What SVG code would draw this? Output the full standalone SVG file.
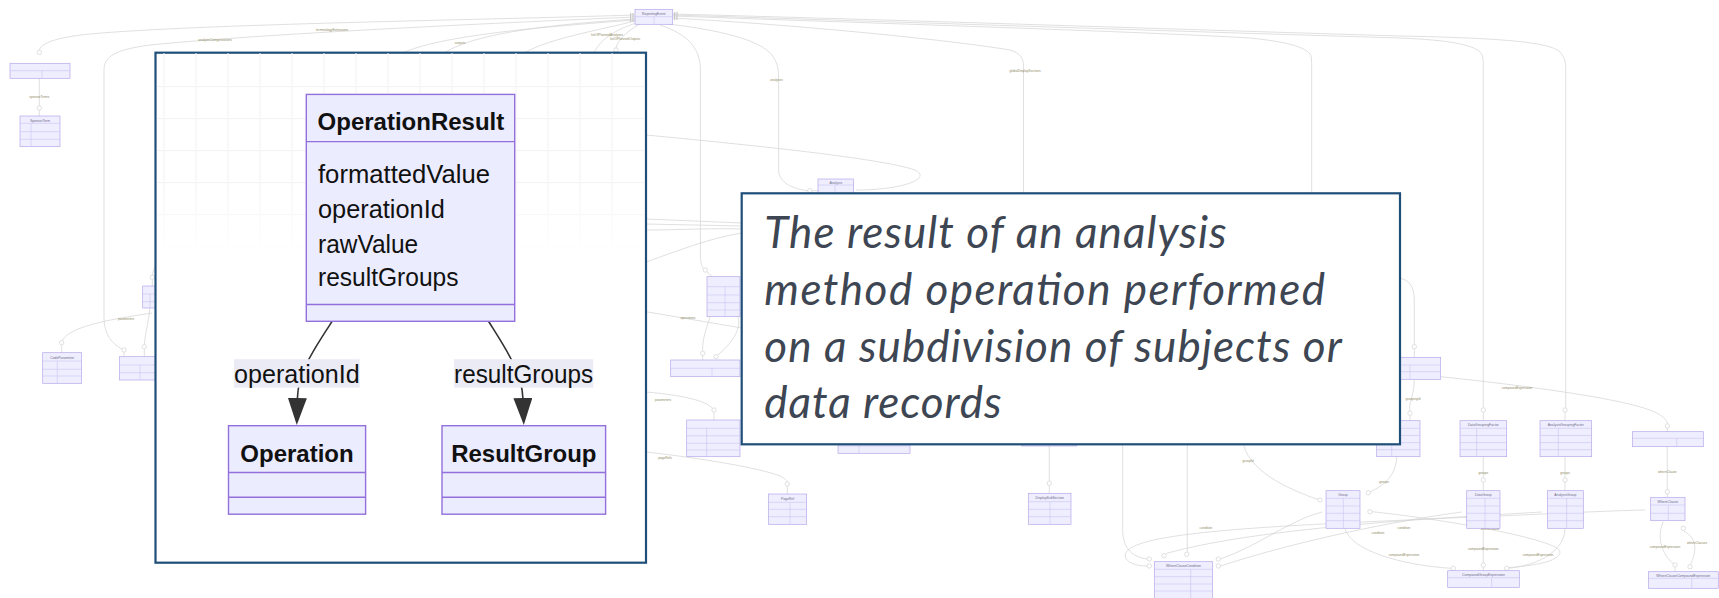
<svg xmlns="http://www.w3.org/2000/svg" width="1719" height="598" viewBox="0 0 1719 598">
  <defs>
    <style>
      .bl { fill: none; stroke: #d3d3d3; stroke-width: 0.7; }
      .bc { fill: #ffffff; stroke: #c2c2c2; stroke-width: 0.5; }
      .bt { fill: #c9c9c9; }
      .bn rect { fill: #eeeeff; stroke: #b3a2e8; stroke-width: 0.65; }
      .bn path { fill: none; stroke: #c6b9ef; stroke-width: 0.5; }
      .bn text { font-family: "Liberation Sans", Arial, sans-serif; font-size: 3.4px; fill: #6e6a88; text-anchor: middle; }
      .blab { font-family: "Liberation Sans", Arial, sans-serif; font-size: 3.2px; fill: #8d8962; text-anchor: middle; }
      .frame { fill: #ffffff; stroke: #1f4e79; stroke-width: 2.2; }
      .grid { fill: none; stroke: #f2f2f2; stroke-width: 1; }
      .cls rect { fill: #ececff; stroke: #9370db; stroke-width: 1.4; }
      .cls path { fill: none; stroke: #9370db; stroke-width: 1.4; }
      .title { font-family: "Liberation Sans", Arial, sans-serif; font-size: 24px; font-weight: bold; fill: #111111; text-anchor: middle; }
      .attr { font-family: "Liberation Sans", Arial, sans-serif; font-size: 25px; fill: #111111; }
      .edge { fill: none; stroke: #333333; stroke-width: 1.6; }
      .elbg { fill: #ebebf5; }
      .eltx { font-family: "Liberation Sans", Arial, sans-serif; font-size: 25px; fill: #111111; text-anchor: middle; }
      .note { font-family: Lato, "Open Sans", "Liberation Sans", sans-serif; font-size: 44px; font-style: italic; fill: #3d4652; }
    </style>
    <marker id="arrow" markerUnits="userSpaceOnUse" viewBox="0 0 27 19" markerWidth="27" markerHeight="19" refX="0" refY="9.5" orient="auto">
      <path d="M0,0 L27,9.5 L0,19 Z" fill="#333333"/>
    </marker>
    <linearGradient id="gridFade" gradientUnits="userSpaceOnUse" x1="0" y1="52" x2="0" y2="252">
      <stop offset="0" stop-color="#fff" stop-opacity="1"/>
      <stop offset="0.7" stop-color="#fff" stop-opacity="1"/>
      <stop offset="1" stop-color="#fff" stop-opacity="0"/>
    </linearGradient>
    <mask id="gridMask" maskUnits="userSpaceOnUse" x="156" y="53" width="490" height="200">
      <rect x="156" y="53" width="490" height="200" fill="url(#gridFade)"/>
    </mask>
  </defs>

  <rect width="1719" height="598" fill="#ffffff"/>

  <!-- full entity-relationship model, drawn small behind the panels -->
  <g id="overview">
    <g id="overview-connectors">
      <path class="bl" d="M635,15 C480,20 200,24 90,34 C60,37 42,42 39.3,50"/>
      <path class="bl" d="M635,17 C450,25 250,35 150,45 C112,50 104,58 104,70 V318 C104,334 112,344 122,349"/>
      <path class="bl" d="M635,19 C560,24 470,32 440,56"/>
      <path class="bl" d="M635,20 C540,27 430,36 397,56"/>
      <path class="bl" d="M635,21 C600,30 540,40 520,56"/>
      <path class="bl" d="M636,23 C615,30 598,40 593,56"/>
      <path class="bl" d="M640,24 C625,32 617,42 616,48"/>
      <path class="bl" d="M39.3,78.3 V105.8 M39.3,110.2 V116"/>
      <path class="bl" d="M152,313 C120,318 70,325 62.5,340.5 M61.7,344.9 V352.7"/>
      <path class="bl" d="M150,308 C148,325 145,335 144.3,344.5 M144.3,348.9 V356.7 M124,352.2 V356.7"/>
      <path class="bl" d="M152.3,275.1 C153,270 155,266 160,262 M152.3,279.5 V286"/>

      <path class="bl" d="M672,14 C900,20 1200,30 1400,36 C1500,38 1550,42 1560,52 C1565,58 1565.7,62 1565.7,70 V407.8 M1565,412.2 V420.7"/>
      <path class="bl" d="M672,15 C900,22 1200,32 1400,38 C1450,40 1478,45 1482,55 C1483.3,58 1483.3,62 1483.3,70 V407.8 M1483.3,412.2 V420.7"/>
      <path class="bl" d="M672,16 C900,24 1150,32 1250,38 C1290,42 1308,48 1311,56 C1311.7,60 1311.7,64 1311.7,70 V262 C1311.7,274 1320,278 1340,278 H1398 C1410,279 1414.3,288 1414.3,300 V344.5 M1414.3,348.9 V357.3"/>
      <path class="bl" d="M672,18 C800,25 950,40 1010,50 C1020,53 1023.5,58 1023.5,66 V430"/>
      <path class="bl" d="M668,24 C720,30 760,40 772,55 C777,62 778.6,68 778.6,78 V170 C778.6,182 792,189 807.6,190.7 M812,190.7 H818"/>
      <path class="bl" d="M660,25 C690,35 700.4,50 700.4,70 V255 C700.4,263 702,267 703.3,268.5 M707,272 L712,276.7"/>
      <path class="bl" d="M646,135 C750,145 880,158 915,170 C932,178 905,190 856,190"/>

      <path class="bl" d="M646,219 L742,223"/>
      <path class="bl" d="M646,224 L742,226"/>
      <path class="bl" d="M646,230 C680,230 710,228 742,229"/>
      <path class="bl" d="M646,262 C680,250 710,238 742,233"/>
      <path class="bl" d="M646,311.7 L742,328"/>
      <path class="bl" d="M710,316.7 C706,330 702,340 702.7,351.1 M702.7,355.5 V360"/>
      <path class="bl" d="M738,317 C742,330 730,345 717.6,355.2"/>
      <path class="bl" d="M646,392 C680,395 705,400 712.6,408.4 M714,412.2 V420"/>
      <path class="bl" d="M646,452 C700,458 760,468 780,476 C785,479 787,480 787.3,481.8 M787.3,486.2 V494"/>
      <path class="bl" d="M1049.3,446 V481.1 M1049.3,485.5 V493.3"/>

      <path class="bl" d="M1122.7,440 V530 C1122.7,548 1132,557 1147.1,559"/>
      <path class="bl" d="M1187.3,440 V552.1"/>
      <path class="bl" d="M1147.1,566 C1130,566 1120,558 1128,550 C1150,530 1300,525 1450,518 C1550,514 1600,511 1645,510"/>
      <path class="bl" d="M1166,553.5 C1250,530 1400,520 1542,512"/>
      <path class="bl" d="M1220.5,559 C1260,545 1290,520 1322,512"/>
      <path class="bl" d="M1220.5,566 C1300,540 1400,520 1462,512"/>
      <path class="bl" d="M1414.3,380 C1414.3,395 1408,405 1410,411.1 M1410,415.5 V420.7"/>
      <path class="bl" d="M1440.7,376.7 C1520,385 1640,400 1660,415 C1666,419 1667.3,421 1667.3,423.8 M1667.3,428.2 V431.7"/>
      <path class="bl" d="M1396.7,457 C1396,475 1385,485 1370.3,491.8"/>
      <path class="bl" d="M1243,440 C1245,470 1290,490 1317.8,499.4"/>
      <path class="bl" d="M1483.3,456.7 V477.8 M1483.3,482.2 V490.7"/>
      <path class="bl" d="M1565,456.7 V477.8 M1565,482.2 V490.7"/>
      <path class="bl" d="M1667.3,446.7 V489.5 M1667.3,493.9 V497.3"/>
      <path class="bl" d="M1345,528.3 C1350,550 1400,565 1451.1,568.3"/>
      <path class="bl" d="M1483.3,528.3 V562.8 M1483.3,567.2 V570.7"/>
      <path class="bl" d="M1565,528.3 C1565,550 1540,565 1508.9,568.3"/>
      <path class="bl" d="M1372.2,511.7 C1450,520 1560,540 1560,552 C1560,562 1530,566 1509,567.5"/>
      <path class="bl" d="M1663.3,521.7 C1655,540 1665,558 1673.5,563.5 M1675,567.2 V571.7"/>
      <path class="bl" d="M1683.3,530.5 C1700,540 1695,555 1690.5,564.5"/>

      <circle class="bc" cx="39.3" cy="52.3" r="2.2"/>
      <circle class="bc" cx="39.3" cy="108" r="2.2"/>
      <circle class="bc" cx="61.7" cy="342.7" r="2.2"/>
      <circle class="bc" cx="124" cy="350" r="2.2"/>
      <circle class="bc" cx="144.3" cy="346.7" r="2.2"/>
      <circle class="bc" cx="152.3" cy="277.3" r="2.2"/>
      <circle class="bc" cx="616" cy="50" r="2.2"/>
      <circle class="bc" cx="809.8" cy="190.7" r="2.2"/>
      <circle class="bc" cx="705.3" cy="270" r="2.2"/>
      <circle class="bc" cx="702.7" cy="353.3" r="2.2"/>
      <circle class="bc" cx="716" cy="356.7" r="2.2"/>
      <circle class="bc" cx="714" cy="410" r="2.2"/>
      <circle class="bc" cx="787.3" cy="484" r="2.2"/>
      <circle class="bc" cx="1049.3" cy="483.3" r="2.2"/>
      <circle class="bc" cx="1149.3" cy="559" r="2.2"/>
      <circle class="bc" cx="1149.3" cy="566" r="2.2"/>
      <circle class="bc" cx="1164" cy="555.7" r="2.2"/>
      <circle class="bc" cx="1186.7" cy="554.3" r="2.2"/>
      <circle class="bc" cx="1218.3" cy="559" r="2.2"/>
      <circle class="bc" cx="1218.3" cy="566" r="2.2"/>
      <circle class="bc" cx="1414.3" cy="346.7" r="2.2"/>
      <circle class="bc" cx="1410" cy="413.3" r="2.2"/>
      <circle class="bc" cx="1483.3" cy="410" r="2.2"/>
      <circle class="bc" cx="1565" cy="410" r="2.2"/>
      <circle class="bc" cx="1667.3" cy="426" r="2.2"/>
      <circle class="bc" cx="1320" cy="500" r="2.2"/>
      <circle class="bc" cx="1368.3" cy="492.7" r="2.2"/>
      <circle class="bc" cx="1370" cy="511.7" r="2.2"/>
      <circle class="bc" cx="1483.3" cy="480" r="2.2"/>
      <circle class="bc" cx="1565" cy="480" r="2.2"/>
      <circle class="bc" cx="1667.3" cy="491.7" r="2.2"/>
      <circle class="bc" cx="1453.3" cy="568.3" r="2.2"/>
      <circle class="bc" cx="1483.3" cy="565" r="2.2"/>
      <circle class="bc" cx="1506.7" cy="568.3" r="2.2"/>
      <circle class="bc" cx="1675" cy="565" r="2.2"/>
      <circle class="bc" cx="1690" cy="566.7" r="2.2"/>
      <circle class="bc" cx="1683.3" cy="528.3" r="2.2"/>

      <rect class="bt" x="630" y="13" width="1.2" height="9"/>
      <rect class="bt" x="632.4" y="13" width="1.2" height="9"/>
      <rect class="bt" x="674" y="12" width="1.2" height="8"/>
      <rect class="bt" x="676.4" y="12" width="1.2" height="8"/>

      <text class="blab" x="332" y="31">terminologyExtensions</text>
      <text class="blab" x="215" y="41">analysisCategorizations</text>
      <text class="blab" x="460" y="44">outputs</text>
      <text class="blab" x="607" y="36">listOfPlannedAnalyses</text>
      <text class="blab" x="625" y="40">listOfPlannedOutputs</text>
      <text class="blab" x="39.3" y="98">sponsorTerms</text>
      <text class="blab" x="126" y="320">parameters</text>
      <text class="blab" x="776.5" y="81">analyses</text>
      <text class="blab" x="1025" y="71.5">globalDisplaySections</text>
      <text class="blab" x="688" y="318.5">operations</text>
      <text class="blab" x="663" y="401">parameters</text>
      <text class="blab" x="665" y="459">pageRefs</text>
      <text class="blab" x="1413" y="400">groupingId</text>
      <text class="blab" x="1384" y="483">groups</text>
      <text class="blab" x="1483.3" y="474">groups</text>
      <text class="blab" x="1565" y="474">groups</text>
      <text class="blab" x="1248" y="461.5">groupId</text>
      <text class="blab" x="1667.3" y="473">whereClause</text>
      <text class="blab" x="1490" y="530">whereClause</text>
      <text class="blab" x="1404" y="528.5">condition</text>
      <text class="blab" x="1378" y="534">condition</text>
      <text class="blab" x="1206" y="529">condition</text>
      <text class="blab" x="1404" y="556">compoundExpression</text>
      <text class="blab" x="1483.3" y="550">compoundExpression</text>
      <text class="blab" x="1538" y="556">compoundExpression</text>
      <text class="blab" x="1665" y="548">compoundExpression</text>
      <text class="blab" x="1517" y="388.5">compoundExpression</text>
      <text class="blab" x="1697" y="544">whereClauses</text>
    </g>

    <g id="overview-nodes">
      <g id="ov-reporting-event" class="bn"><rect x="635" y="9.3" width="37.7" height="15"/><path d="M635,16.7 H672.7 M654,16.7 V24.3"/><text x="653.8" y="15">ReportingEvent</text></g>
      <g id="ov-terminology" class="bn"><rect x="10" y="63.3" width="60" height="15"/><path d="M10,70.7 H70 M42,70.7 V78.3"/></g>
      <g id="ov-sponsor-term" class="bn"><rect x="20" y="116" width="40" height="30.7"/><path d="M20,123.3 H60 M20,131.7 H60 M20,139.3 H60 M31,123.3 V146.7"/><text x="40" y="121.5">SponsorTerm</text></g>
      <g id="ov-code-parameter" class="bn"><rect x="42.7" y="352.7" width="39" height="30.6"/><path d="M42.7,361 H81.7 M42.7,369.3 H81.7 M42.7,376 H81.7 M57.3,361 V383.3"/><text x="62.2" y="358.5">CodeParameter</text></g>
      <g id="ov-left-a" class="bn"><rect x="142.7" y="286" width="30" height="22"/><path d="M142.7,294 H172.7 M142.7,301.7 H172.7 M150,294 V308"/></g>
      <g id="ov-left-b" class="bn"><rect x="119.3" y="356.7" width="45" height="23.3"/><path d="M119.3,365 H164.3 M119.3,372.7 H164.3 M140,365 V380"/></g>
      <g id="ov-analysis" class="bn"><rect x="818" y="179" width="35.6" height="22"/><path d="M818,185 H853.6 M835,185 V201"/><text x="835.8" y="183.5">Analysis</text></g>
      <g id="ov-mid-a" class="bn"><rect x="707" y="276.7" width="33" height="40"/><path d="M707,286.7 H740 M707,295 H740 M707,302.7 H740 M707,310 H740 M725,286.7 V316.7"/></g>
      <g id="ov-mid-b" class="bn"><rect x="670.7" y="360" width="69.3" height="16.7"/><path d="M670.7,368.3 H740 M712,368.3 V376.7"/></g>
      <g id="ov-mid-c" class="bn"><rect x="686.7" y="420" width="53.3" height="36.7"/><path d="M686.7,428.3 H740 M686.7,435.8 H740 M686.7,443.3 H740 M686.7,450 H740 M706.7,428.3 V456.7"/></g>
      <g id="ov-mid-d" class="bn"><rect x="838" y="425" width="72" height="28.3"/><path d="M838,446 H910 M859,446 V453.3"/></g>
      <g id="ov-page-ref" class="bn"><rect x="768.3" y="494" width="38.4" height="30.3"/><path d="M768.3,502.3 H806.7 M768.3,509.3 H806.7 M768.3,516.7 H806.7 M790,502.3 V524.3"/><text x="787.5" y="499.5">PageRef</text></g>
      <g id="ov-mid-e" class="bn"><rect x="1021.7" y="430" width="55" height="16"/></g>
      <g id="ov-display-subsection" class="bn"><rect x="1028.3" y="493.3" width="42.7" height="31"/><path d="M1028.3,501.7 H1071 M1028.3,509.3 H1071 M1028.3,516.7 H1071 M1050,501.7 V524.3"/><text x="1049.7" y="499.2">DisplaySubSection</text></g>
      <g id="ov-where-clause-condition" class="bn"><rect x="1154.3" y="561.7" width="58.4" height="40"/><path d="M1154.3,569.3 H1212.7 M1154.3,576.7 H1212.7 M1154.3,584 H1212.7 M1154.3,591 H1212.7 M1190.7,569.3 V601.7"/><text x="1183.5" y="567">WhereClauseCondition</text></g>
      <g id="ov-right-a" class="bn"><rect x="1395" y="357.3" width="45.7" height="22"/><path d="M1395,365 H1440.7 M1395,371.7 H1440.7 M1410,365 V379.3"/></g>
      <g id="ov-right-b" class="bn"><rect x="1376.7" y="420.7" width="43.3" height="36"/><path d="M1376.7,428.3 H1420 M1376.7,435.5 H1420 M1376.7,442.6 H1420 M1376.7,449.7 H1420 M1391.7,428.3 V456.7"/></g>
      <g id="ov-data-grouping-factor" class="bn"><rect x="1460" y="420.7" width="46.7" height="36"/><path d="M1460,428.3 H1506.7 M1460,435.5 H1506.7 M1460,442.6 H1506.7 M1460,449.7 H1506.7 M1476.7,428.3 V456.7"/><text x="1483.3" y="426.3">DataGroupingFactor</text></g>
      <g id="ov-analysis-grouping-factor" class="bn"><rect x="1540" y="420.7" width="51.7" height="36"/><path d="M1540,428.3 H1591.7 M1540,435.5 H1591.7 M1540,442.6 H1591.7 M1540,449.7 H1591.7 M1558.3,428.3 V456.7"/><text x="1565.8" y="426.3">AnalysisGroupingFactor</text></g>
      <g id="ov-right-c" class="bn"><rect x="1632.3" y="431.7" width="71" height="15"/><path d="M1632.3,438.3 H1703.3 M1676.7,438.3 V446.7"/></g>
      <g id="ov-group" class="bn"><rect x="1326" y="490.7" width="34" height="37.6"/><path d="M1326,498.3 H1360 M1326,506 H1360 M1326,513.3 H1360 M1326,520.7 H1360 M1343.3,498.3 V528.3"/><text x="1343" y="496">Group</text></g>
      <g id="ov-data-group" class="bn"><rect x="1466.7" y="490.7" width="33.3" height="37.6"/><path d="M1466.7,498.3 H1500 M1466.7,506 H1500 M1466.7,513.3 H1500 M1466.7,520.7 H1500 M1485,498.3 V528.3"/><text x="1483.3" y="496">DataGroup</text></g>
      <g id="ov-analysis-group" class="bn"><rect x="1547.3" y="490.7" width="36" height="37.6"/><path d="M1547.3,498.3 H1583.3 M1547.3,506 H1583.3 M1547.3,513.3 H1583.3 M1547.3,520.7 H1583.3 M1566.7,498.3 V528.3"/><text x="1565.3" y="496">AnalysisGroup</text></g>
      <g id="ov-where-clause" class="bn"><rect x="1650.7" y="497.3" width="34.3" height="23.4"/><path d="M1650.7,505 H1685 M1650.7,513.3 H1685 M1668.3,505 V520.7"/><text x="1667.8" y="502.6">WhereClause</text></g>
      <g id="ov-compound-group-expression" class="bn"><rect x="1447.7" y="570.7" width="71.6" height="16.6"/><path d="M1447.7,577.7 H1519.3 M1491.7,577.7 V587.3"/><text x="1483.5" y="575.7">CompoundGroupExpression</text></g>
      <g id="ov-where-clause-compound-expression" class="bn"><rect x="1648.3" y="571.7" width="70" height="16.6"/><path d="M1648.3,578.3 H1718.3 M1691.7,578.3 V588.3"/><text x="1683.3" y="576.5">WhereClauseCompoundExpression</text></g>
    </g>
  </g>

  <!-- enlarged excerpt: OperationResult and its two associations -->
  <g id="detail-panel">
    <rect class="frame" x="155.5" y="52.7" width="490.5" height="510"/>
    <g id="detail-grid" mask="url(#gridMask)">
      <path class="grid" d="M164,53 V252 M196,53 V252 M228,53 V252 M260,53 V252 M292,53 V252 M324,53 V252 M356,53 V252 M388,53 V252 M420,53 V252 M452,53 V252 M484,53 V252 M516,53 V252 M548,53 V252 M580,53 V252 M612,53 V252 M157,86.7 H645 M157,118.7 H645 M157,150.7 H645 M157,182.7 H645 M157,214.7 H645 M157,246.7 H645"/>
    </g>

    <g id="connectors">
      <path class="edge" d="M332.2,321.3 C316,346 298,372 297.4,398" marker-end="url(#arrow)"/>
      <path class="edge" d="M488.5,321.3 C504,346 522,372 522.9,398" marker-end="url(#arrow)"/>
      <g id="label-operationId">
        <rect class="elbg" x="234" y="359.2" width="125.7" height="28.5"/>
        <text class="eltx" x="296.9" y="382.5" textLength="125.7" lengthAdjust="spacingAndGlyphs">operationId</text>
      </g>
      <g id="label-resultGroups">
        <rect class="elbg" x="454" y="359.2" width="139.2" height="28.5"/>
        <text class="eltx" x="523.6" y="382.5" textLength="139" lengthAdjust="spacingAndGlyphs">resultGroups</text>
      </g>
    </g>

    <g id="node-OperationResult" class="cls">
      <rect x="306.3" y="94.4" width="208.4" height="226.9"/>
      <path d="M306.3,141.6 H514.7 M306.3,304.5 H514.7"/>
      <text class="title" x="410.9" y="130.2">OperationResult</text>
      <text class="attr" x="318" y="182.9" textLength="172" lengthAdjust="spacingAndGlyphs">formattedValue</text>
      <text class="attr" x="318" y="218" textLength="126.8" lengthAdjust="spacingAndGlyphs">operationId</text>
      <text class="attr" x="318" y="252.5" textLength="100.2" lengthAdjust="spacingAndGlyphs">rawValue</text>
      <text class="attr" x="318" y="286.2" textLength="140.5" lengthAdjust="spacingAndGlyphs">resultGroups</text>
    </g>

    <g id="node-Operation" class="cls">
      <rect x="228.5" y="425.7" width="137.1" height="88.5"/>
      <path d="M228.5,472.5 H365.6 M228.5,497.3 H365.6"/>
      <text class="title" x="297" y="461.8">Operation</text>
    </g>

    <g id="node-ResultGroup" class="cls">
      <rect x="442" y="425.7" width="163.6" height="88.5"/>
      <path d="M442,472.5 H605.6 M442,497.3 H605.6"/>
      <text class="title" x="523.8" y="461.8">ResultGroup</text>
    </g>
  </g>

  <!-- definition callout -->
  <g id="definition-callout">
    <rect class="frame" x="741.7" y="193.3" width="658.3" height="251"/>
    <text class="note" x="764.3" y="247.7" textLength="462.4" lengthAdjust="spacing">The result of an analysis</text>
    <text class="note" x="764.3" y="305" textLength="560.7" lengthAdjust="spacing">method operation performed</text>
    <text class="note" x="764.3" y="361.7" textLength="577.4" lengthAdjust="spacing">on a subdivision of subjects or</text>
    <text class="note" x="764.3" y="418.3" textLength="237.4" lengthAdjust="spacing">data records</text>
  </g>
</svg>
